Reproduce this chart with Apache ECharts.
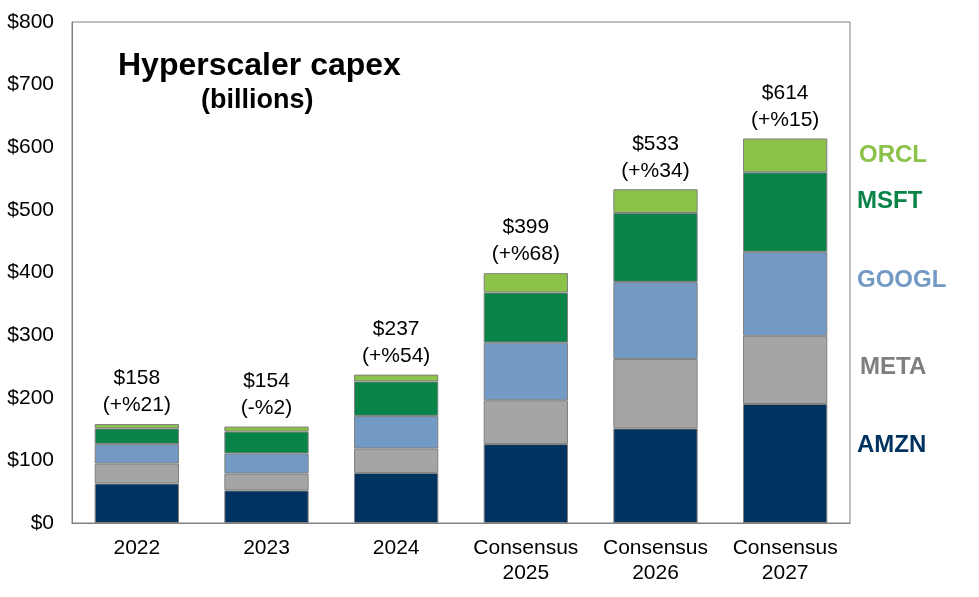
<!DOCTYPE html>
<html>
<head>
<meta charset="utf-8">
<script src="https://cdn.jsdelivr.net/npm/echarts@6/dist/echarts.min.js"></script>
<style>
  html, body { margin: 0; padding: 0; background: #fff; }
  #chart { width: 979px; height: 597px; }
</style>
</head>
<body>
<div id="chart"></div>
<script>
const categories = ["2022", "2023", "2024", "Consensus\n2025", "Consensus\n2026", "Consensus\n2027"];
const amzn = [63, 52, 80, 126, 151, 190];
const meta = [32, 27, 39, 70, 111, 109];
const googl = [31, 32, 52, 92, 123, 134];
const msft = [25, 35, 55, 80, 110, 127];
const orcl = [7, 8, 11, 31, 38, 54];
const totals = [158, 154, 237, 399, 533, 614];
const growth = ["+%21", "-%2", "+%54", "+%68", "+%34", "+%15"];

const font = "Arial, 'Liberation Sans', sans-serif";
const border = { borderColor: "#808080", borderWidth: 1 };

function stackSeries(name, data, color, withTotal) {
    const s = {
        name: name,
        type: "bar",
        stack: "capex",
        data: data,
        barWidth: "65%",
        itemStyle: Object.assign({ color: color }, border)
    };
    if (withTotal) {
        s.label = {
            show: true,
            position: "top",
            distance: 5,
            color: "#000",
            fontFamily: font,
            fontSize: 21,
            lineHeight: 27,
            formatter: p => "$" + totals[p.dataIndex] + "\n(" + growth[p.dataIndex] + ")"
        };
    }
    return s;
}

function sideLabel(text, x, y, color) {
    return {
        type: "text", x: x, y: y, silent: true,
        style: { text: text, fontFamily: font, fontSize: 24, fontWeight: "bold", fill: color, verticalAlign: "middle" }
    };
}

const chart = echarts.init(document.getElementById("chart"));
chart.setOption({
    animation: false,
    grid: { left: 72, right: 129, top: 22, bottom: 74 },
    xAxis: {
        type: "category",
        data: categories,
        axisLine: { lineStyle: { color: "#808080" } },
        axisTick: { show: false },
        axisLabel: {
            color: "#000",
            fontFamily: font,
            fontSize: 21,
            lineHeight: 25,
            margin: 13,
            interval: 0
        }
    },
    yAxis: {
        type: "value",
        min: 0,
        max: 800,
        interval: 100,
        axisLine: { show: true, lineStyle: { color: "#808080" } },
        axisTick: { show: false },
        splitLine: { show: false },
        axisLabel: {
            color: "#000",
            fontFamily: font,
            fontSize: 21,
            margin: 18,
            formatter: v => "$" + v
        }
    },
    series: [
        stackSeries("AMZN", amzn, "#00335f"),
        stackSeries("META", meta, "#a5a5a5"),
        stackSeries("GOOGL", googl, "#739ac5"),
        stackSeries("MSFT", msft, "#088448"),
        stackSeries("ORCL", orcl, "#8cc24a", true)
    ],
    graphic: [
        // plot frame (top and right edges)
        { type: "rect", silent: true, shape: { x: 72, y: 22, width: 778, height: 501 }, style: { fill: null, stroke: "#808080", lineWidth: 1 } },
        { type: "text", x: 118, y: 66, silent: true, style: { text: "Hyperscaler capex", fontFamily: font, fontSize: 32, fontWeight: "bold", fill: "#000", verticalAlign: "middle" } },
        { type: "text", x: 201, y: 101, silent: true, style: { text: "(billions)", fontFamily: font, fontSize: 27, fontWeight: "bold", fill: "#000", verticalAlign: "middle" } },
        sideLabel("ORCL", 859, 155, "#8cc24a"),
        sideLabel("MSFT", 857, 201, "#088448"),
        sideLabel("GOOGL", 857, 280, "#739ac5"),
        sideLabel("META", 860, 367, "#7f7f7f"),
        sideLabel("AMZN", 857, 445, "#00335f")
    ]
});
window.addEventListener("resize", () => chart.resize());
</script>
</body>
</html>
